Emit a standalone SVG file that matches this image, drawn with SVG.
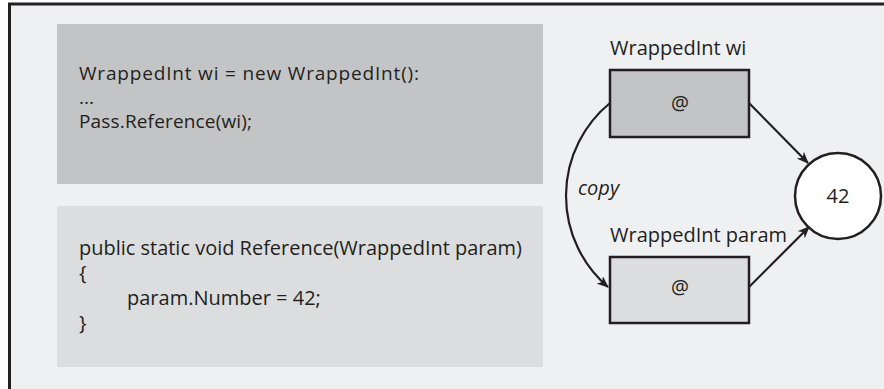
<svg xmlns="http://www.w3.org/2000/svg" width="884" height="389" viewBox="0 0 884 389">
<style>
  .t { font-family: "Open Sans", "Noto Sans", "Liberation Sans", sans-serif; font-size: 20px; fill: #231f20; }
  .s { font-size: 19px; }
  .c { text-anchor: middle; }
  .frame { stroke: #231f20; stroke-width: 3; fill: none; }
  .node { stroke: #231f20; stroke-width: 2.5; }
  .edge { stroke: #231f20; stroke-width: 2.2; fill: none; marker-end: url(#arr); }
</style>
<defs>
  <marker id="arr" viewBox="0 0 12 10" refX="11" refY="5" markerWidth="12" markerHeight="10" markerUnits="userSpaceOnUse" orient="auto">
    <path d="M0,0 L12,5 L0,10 L3.5,5 z" fill="#231f20"/>
  </marker>
</defs>
<rect x="0" y="0" width="884" height="389" fill="#ffffff"/>
<rect x="9" y="4" width="875" height="385" fill="#eff0f2"/>
<path class="frame" d="M9.5,389 V4 H884"/>

<g id="code-call">
  <rect x="57" y="24" width="486" height="160" fill="#c3c4c6"/>
  <text class="t s" x="79" y="80" textLength="340" lengthAdjust="spacing">WrappedInt wi = new WrappedInt():</text>
  <text class="t s" x="79" y="104">...</text>
  <text class="t s" x="79" y="128" textLength="173" lengthAdjust="spacing">Pass.Reference(wi);</text>
</g>

<g id="code-method">
  <rect x="57" y="206" width="486" height="161" fill="#dcdddf"/>
  <text class="t" x="79" y="255" textLength="443" lengthAdjust="spacingAndGlyphs">public static void Reference(WrappedInt param)</text>
  <text class="t" x="79" y="280">{</text>
  <text class="t" x="127" y="305">param.Number = 42;</text>
  <text class="t" x="79" y="330">}</text>
</g>

<g id="wi">
  <text class="t" x="610" y="55">WrappedInt wi</text>
  <rect class="node" x="610" y="70" width="139" height="67" fill="#c3c4c6"/>
  <text class="t c" x="680" y="110">@</text>
</g>

<g id="param">
  <text class="t" x="610" y="242">WrappedInt param</text>
  <rect class="node" x="610" y="257" width="139" height="66" fill="#dcdddf"/>
  <text class="t c" x="680" y="294">@</text>
</g>

<g id="value">
  <circle class="node" cx="838" cy="196" r="43" fill="#ffffff"/>
  <text class="t c" x="838" y="203">42</text>
</g>

<g id="connectors">
  <path class="edge" d="M749,103 L808,163"/>
  <path class="edge" d="M749,287 L809,227"/>
  <path class="edge" d="M610,103 A120,120 0 0,0 608,287"/>
  <text class="t" x="578" y="195" font-style="italic">copy</text>
</g>
</svg>
